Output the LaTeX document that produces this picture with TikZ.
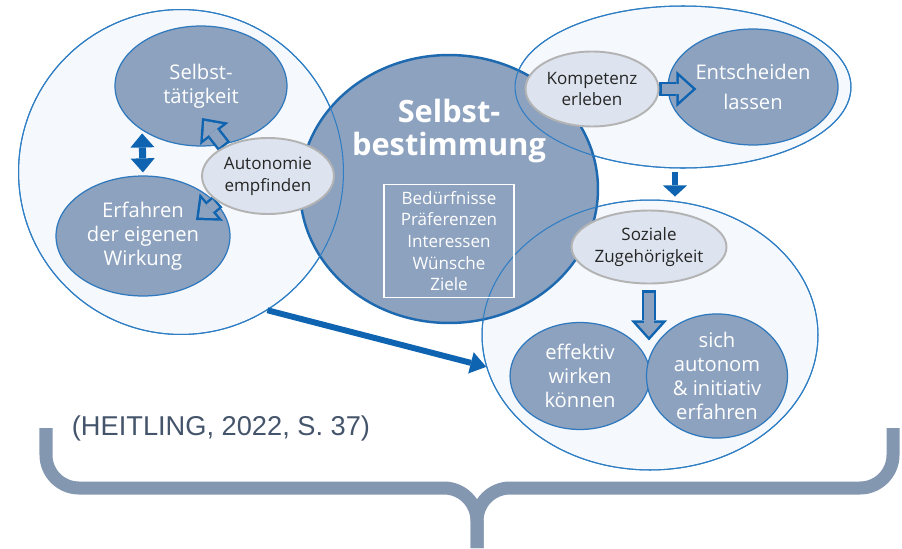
\documentclass[tikz,border=0pt]{standalone}
\usepackage{fontspec}
\setmainfont{Open Sans}
\newfontfamily\citefont{Liberation Sans}
\usetikzlibrary{arrows.meta, positioning, shapes.geometric, calc}

\definecolor{outerfill}{HTML}{F5F8FC}
\definecolor{outerline}{HTML}{2F7EC4}
\definecolor{ellfill}{HTML}{8DA2BF}
\definecolor{ellline}{HTML}{2E78BD}
\definecolor{palefill}{HTML}{DDE4EF}
\definecolor{paleline}{HTML}{B3B3B3}
\definecolor{coreline}{HTML}{1E6AB0}
\definecolor{arrowblue}{HTML}{0E64B0}
\definecolor{bracecol}{HTML}{8497B0}
\definecolor{citecol}{HTML}{44546A}

\pgfdeclarelayer{back}
\pgfdeclarelayer{front}
\pgfsetlayers{back,main,front}

\begin{document}
\begin{tikzpicture}[x=0.02cm, y=-0.02cm,
    outer/.style={ellipse, draw=outerline, line width=0.6pt, fill=outerfill, inner sep=0pt},
    ring/.style={ellipse, draw=outerline, line width=0.6pt, inner sep=0pt},
    lsize/.style={minimum width=6.5cm, minimum height=6.5cm},
    trsize/.style={minimum width=6.72cm, minimum height=3.24cm},
    brsize/.style={minimum width=6.72cm, minimum height=5.4cm},
    inner/.style={ellipse, draw=ellline, line width=0.7pt, fill=ellfill, inner sep=0pt, align=center, text=white, font=\fontsize{11.5}{13.7}\selectfont},
    pale/.style={ellipse, draw=paleline, line width=1.1pt, fill=palefill, inner sep=0pt, align=center, text=black!85, font=\fontsize{9.7}{12.5}\selectfont},
    hollowout/.style={draw=arrowblue, line width=8.5pt, -{Triangle[width=20.5pt, length=11.4pt, line width=0pt]}},
    hollowin/.style={draw=ellfill, line width=5.7pt, -{Triangle[width=14.2pt, length=7.9pt, line width=0pt]}, shorten >=2.1pt, shorten <=1.4pt},
    solidarrow/.style={draw=arrowblue, line width=3.4pt, -{Triangle[width=12.5pt, length=9pt, line width=0pt]}},
    bracestyle/.style={draw=bracecol, line width=7.4pt, rounded corners=0.66cm}
]
\useasboundingbox (0,0) rectangle (902,548);

% outer groups
\begin{pgfonlayer}{back}
\node[outer, lsize] (lcirc) at (181,172) {};
\node[outer, trsize] (trell) at (683,87) {};
\node[outer, brsize] (brell) at (650,335) {};
\end{pgfonlayer}

% core circle
\node[ellipse, draw=coreline, line width=1.4pt, fill=ellfill, minimum width=5.96cm, minimum height=5.36cm] (core) at (449,189) {};
\node[ring, lsize] at (lcirc) {};
\node[ring, trsize] at (trell) {};
\node[ring, brsize] at (brell) {};

\node[text=white, align=center, font=\fontsize{17.5}{18.8}\selectfont\bfseries] (title) at (449,131) {Selbst-\\bestimmung};
\node[draw=white, line width=1.1pt, minimum width=2.6cm, minimum height=2.26cm, align=center, text=white, font=\fontsize{9.7}{12.3}\selectfont] (needs) at (449,241) {Bedürfnisse\\Präferenzen\\Interessen\\Wünsche\\Ziele};

% inner ellipses
\node[inner, minimum width=3.44cm, minimum height=2.4cm] (selbst) at (201,86) {Selbst-\\tätigkeit};
\node[inner, minimum width=3.48cm, minimum height=2.4cm] (erf) at (143,236) {Erfahren\\der eigenen\\Wirkung};
\node[inner, minimum width=3.4cm, minimum height=2.32cm, font=\fontsize{11.5}{17}\selectfont] (entsch) at (753,87) {Entscheiden\\lassen};
\node[inner, minimum width=2.8cm, minimum height=2.14cm] (effw) at (580,376) {effektiv\\wirken\\können};
\node[inner, minimum width=2.82cm, minimum height=2.12cm] (sich) at (717,376) {sich\\autonom\\\& initiativ\\erfahren};

% needs on top
\begin{pgfonlayer}{front}
\node[pale, minimum width=2.64cm, minimum height=1.52cm] (auton) at (268,176) {Autonomie\\empfinden};
\node[pale, minimum width=2.66cm, minimum height=1.5cm] (komp) at (592,89) {Kompetenz\\erleben};
\node[pale, minimum width=3.1cm, minimum height=1.46cm] (soz) at (649,247) {Soziale\\Zugehörigkeit};
\end{pgfonlayer}

% hollow arrows
\draw[hollowout] (auton.146) -- ([shift={(1,32)}]selbst.center);
\draw[hollowin] (auton.146) -- ([shift={(1,32)}]selbst.center);
\draw[hollowout] (auton.207) -- ([shift={(53,-16)}]erf.center);
\draw[hollowin] (auton.207) -- ([shift={(53,-16)}]erf.center);
\draw[hollowout] (komp.east) -- ([shift={(29,2)}]entsch.west);
\draw[hollowin] (komp.east) -- ([shift={(29,2)}]entsch.west);
\draw[hollowout] ([yshift=-0.12cm]soz.south) -- ([yshift=-1.12cm]soz.south);
\draw[hollowin] ([yshift=-0.12cm]soz.south) -- ([yshift=-1.12cm]soz.south);

% solid arrows
\draw[draw=arrowblue, line width=4pt, {Triangle[width=13.7pt, length=8pt, line width=0pt]}-{Triangle[width=13.7pt, length=8pt, line width=0pt]}, shorten <=1.7pt, shorten >=1.7pt] (selbst.217) -- (erf.north);
\draw[solidarrow] (lcirc.-58) -- (brell.191);
\draw[solidarrow, -{Triangle[width=13.7pt, length=6.3pt, line width=0pt]}, shorten <=2pt, shorten >=1.7pt] ([xshift=-0.16cm]trell.south) -- ([xshift=-0.16cm]trell.south |- brell.north);

% source and brace
\node[text=citecol, font=\citefont\fontsize{15.5}{18}\selectfont] (cite) at (221,428) {(HEITLING, 2022, S. 37)};
\draw[bracestyle] (46,428) -- (46,488) -- (477,488) -- (477,548);
\draw[bracestyle] (893,428) -- (893,488) -- (477,488) -- (477,548);

\end{tikzpicture}
\end{document}
